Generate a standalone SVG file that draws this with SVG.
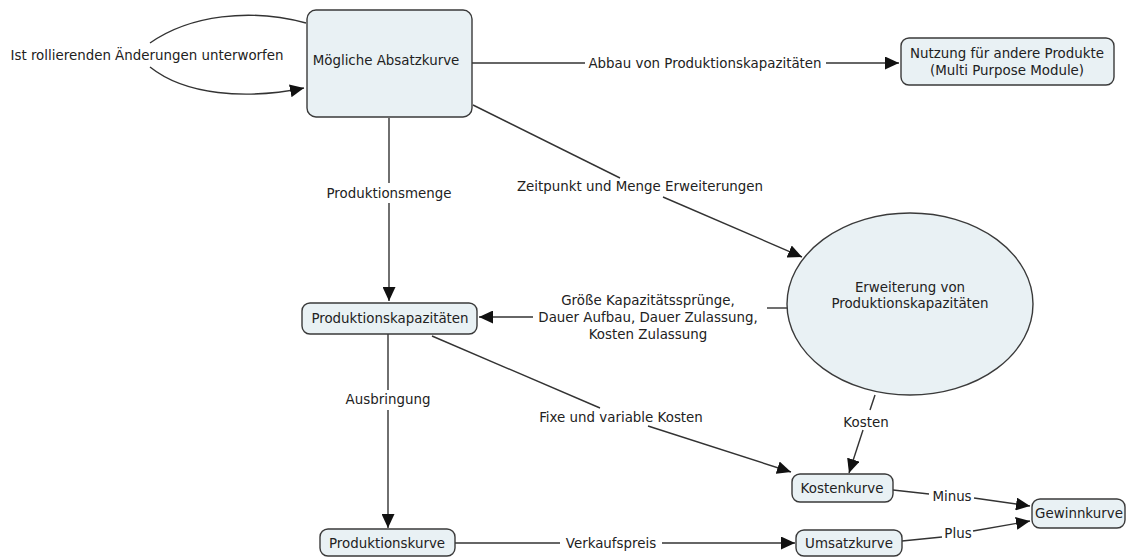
<svg xmlns="http://www.w3.org/2000/svg" width="1130" height="557" viewBox="0 0 1130 557">
  <style>
    .node { fill: #e9f1f4; stroke: #3a3a3a; stroke-width: 1.4; }
    .edge { fill: none; stroke: #333; stroke-width: 1.4; }
    text { font-family: "DejaVu Sans", Verdana, sans-serif; font-size: 13.4px; fill: #222; text-anchor: middle; }
  </style>
  <defs>
    <marker id="arrow" markerUnits="userSpaceOnUse" markerWidth="15" markerHeight="13" refX="14" refY="6.5" orient="auto">
      <path d="M0,0 L14,6.5 L0,13 z" fill="#111"/>
    </marker>
  </defs>
  <rect width="1130" height="557" fill="#fff"/>

  <!-- connectors, each split around its label -->
  <g id="connectors">
    <path class="edge" d="M150,43 C190,15 250,8 306,23"/>
    <path class="edge" d="M150,67 C185,95 245,100 304,88" marker-end="url(#arrow)"/>
    <text x="147" y="60">Ist rollierenden Änderungen unterworfen</text>

    <line class="edge" x1="472" y1="63" x2="585" y2="63"/>
    <line class="edge" x1="826" y1="63" x2="899" y2="63" marker-end="url(#arrow)"/>
    <text x="705" y="68">Abbau von Produktionskapazitäten</text>

    <line class="edge" x1="389" y1="118" x2="389" y2="183"/>
    <line class="edge" x1="389" y1="203" x2="389" y2="301" marker-end="url(#arrow)"/>
    <text x="389" y="198">Produktionsmenge</text>

    <line class="edge" x1="473" y1="105" x2="620" y2="178"/>
    <line class="edge" x1="663" y1="197" x2="802" y2="257" marker-end="url(#arrow)"/>
    <text x="640" y="191">Zeitpunkt und Menge Erweiterungen</text>

    <line class="edge" x1="787" y1="308" x2="767" y2="308"/>
    <line class="edge" x1="533" y1="317" x2="479" y2="317" marker-end="url(#arrow)"/>
    <text x="648" y="305">Größe Kapazitätssprünge,</text>
    <text x="648" y="322">Dauer Aufbau, Dauer Zulassung,</text>
    <text x="648" y="339">Kosten Zulassung</text>

    <line class="edge" x1="388" y1="334" x2="388" y2="390"/>
    <line class="edge" x1="388" y1="410" x2="388" y2="528" marker-end="url(#arrow)"/>
    <text x="388" y="404">Ausbringung</text>

    <line class="edge" x1="432" y1="336" x2="600" y2="408"/>
    <line class="edge" x1="648" y1="426" x2="791" y2="472" marker-end="url(#arrow)"/>
    <text x="621" y="422">Fixe und variable Kosten</text>

    <line class="edge" x1="875" y1="395" x2="870" y2="410"/>
    <line class="edge" x1="863" y1="430" x2="849" y2="473" marker-end="url(#arrow)"/>
    <text x="866" y="427">Kosten</text>

    <line class="edge" x1="455" y1="543" x2="560" y2="543"/>
    <line class="edge" x1="662" y1="543" x2="795" y2="543" marker-end="url(#arrow)"/>
    <text x="611" y="548">Verkaufspreis</text>

    <line class="edge" x1="893" y1="490" x2="929" y2="494"/>
    <line class="edge" x1="974" y1="498" x2="1030" y2="506" marker-end="url(#arrow)"/>
    <text x="952" y="501">Minus</text>

    <line class="edge" x1="902" y1="541" x2="942" y2="537"/>
    <line class="edge" x1="973" y1="531" x2="1030" y2="521" marker-end="url(#arrow)"/>
    <text x="958" y="538">Plus</text>
  </g>

  <g id="moegliche-absatzkurve">
    <rect class="node" x="307" y="10" width="165" height="107" rx="9"/>
    <text x="386" y="65">Mögliche Absatzkurve</text>
  </g>

  <g id="nutzung-andere-produkte">
    <rect class="node" x="901" y="38" width="213" height="47" rx="8"/>
    <text x="1007" y="58">Nutzung für andere Produkte</text>
    <text x="1007" y="75">(Multi Purpose Module)</text>
  </g>

  <g id="produktionskapazitaeten">
    <rect class="node" x="302" y="303" width="175" height="31" rx="8"/>
    <text x="390" y="323">Produktionskapazitäten</text>
  </g>

  <g id="erweiterung">
    <ellipse class="node" cx="910" cy="304" rx="123" ry="91"/>
    <text x="910" y="292">Erweiterung von</text>
    <text x="910" y="308">Produktionskapazitäten</text>
  </g>

  <g id="kostenkurve">
    <rect class="node" x="792" y="474" width="101" height="28" rx="8"/>
    <text x="842" y="493">Kostenkurve</text>
  </g>

  <g id="umsatzkurve">
    <rect class="node" x="796" y="530" width="106" height="26" rx="8"/>
    <text x="849" y="548">Umsatzkurve</text>
  </g>

  <g id="gewinnkurve">
    <rect class="node" x="1032" y="499" width="93" height="29" rx="8"/>
    <text x="1079" y="518">Gewinnkurve</text>
  </g>

  <g id="produktionskurve">
    <rect class="node" x="320" y="529" width="135" height="27" rx="8"/>
    <text x="387" y="548">Produktionskurve</text>
  </g>
</svg>
